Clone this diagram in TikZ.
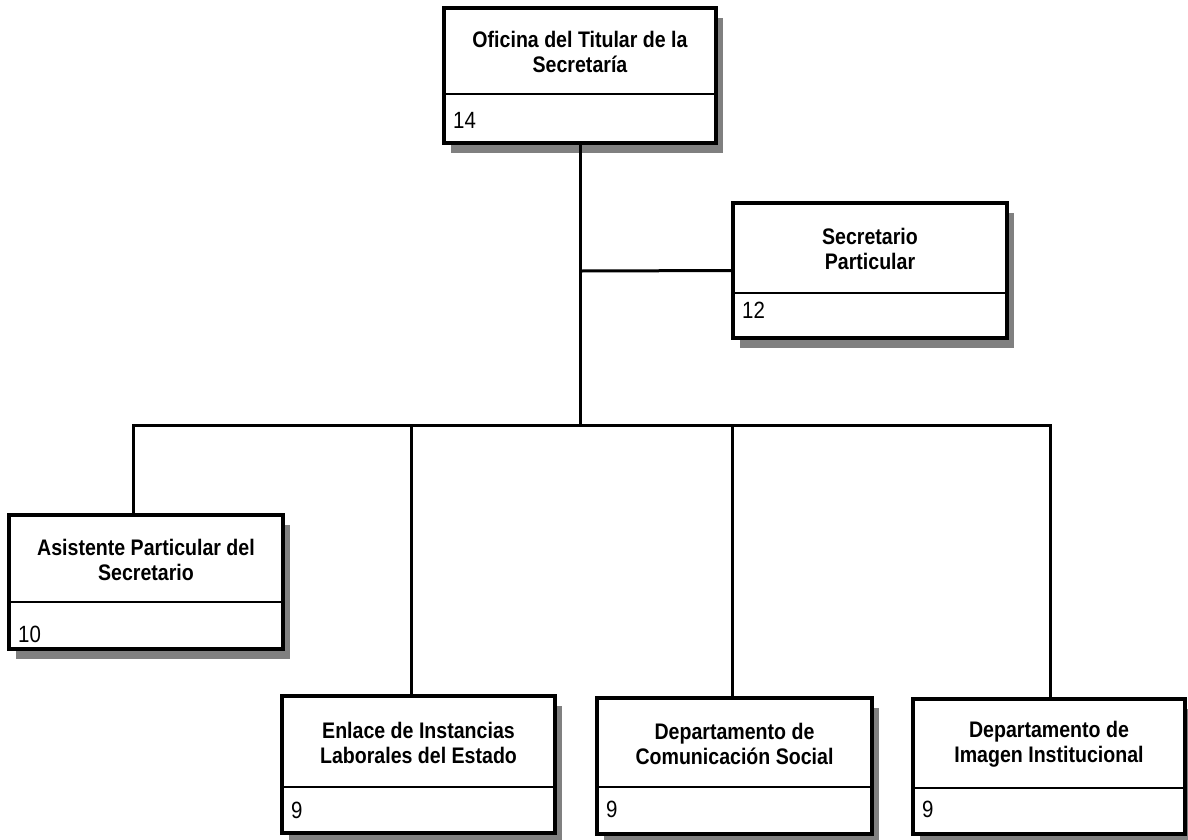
\documentclass[tikz,border=0pt]{standalone}
\usepackage{fontspec}
\setmainfont{Liberation Sans}
\newfontfamily\orgfont[FakeStretch=0.87]{Liberation Sans}
\definecolor{shadowc}{HTML}{808080}
\tikzset{
  unitbox/.style={draw=black, fill=white, line width=3.5pt, rectangle, inner sep=0pt, outer sep=0pt},
  divline/.style={line width=2pt},
  conn/.style={line width=3pt},
  titletext/.style={align=center, inner sep=0pt, font=\orgfont\bfseries\fontsize{22.5}{25}\selectfont},
  numtext/.style={inner sep=0pt, anchor=base west, font=\orgfont\fontsize{23.5}{25}\selectfont}
}
% #1 name, #2 left, #3 top, #4 right, #5 bottom, #6 divider y, #7 title, #8 number, #9 number baseline
\newcommand\OrgBox[9]{%
  \fill[shadowc] (#2+7,#3+10) rectangle (#4+7,#5+10);
  \node[unitbox, minimum width={(#4-#2)*1pt}, minimum height={(#5-#3)*1pt}] (#1) at ({(#2+#4)/2},{(#3+#5)/2}) {};
  \draw[divline] (#2,#6) -- (#4,#6);
  \node[titletext] (#1-t) at ({(#2+#4)/2},{(#3+#6)/2+1}) {#7};
  \node[numtext] (#1-n) at (#2+9,#9) {#8};
}
\begin{document}
\begin{tikzpicture}[x=1pt,y=-1pt]
\useasboundingbox (0,0) rectangle (1188,839);
\fill[white] (0,0) rectangle (1188,839);
% junction coordinates
\coordinate (jsec) at (580,271);
\coordinate (bus) at (580,425);
\coordinate (busL) at (133,425);
\coordinate (busE) at (411,425);
\coordinate (busC) at (732,425);
\coordinate (busR) at (1050,425);

\OrgBox{top}{444}{8}{716}{143}{94}{Oficina del Titular de la\\Secretaría}{14}{128}
\OrgBox{sec}{733}{203}{1007}{338}{293}{Secretario\\Particular}{12}{318}
\OrgBox{asis}{9}{515}{283}{649}{602}{Asistente Particular del\\Secretario}{10}{642}
\OrgBox{enl}{282}{696}{555}{833}{787}{Enlace de Instancias\\Laborales del Estado}{9}{818}
\OrgBox{com}{597}{698}{872}{834}{787}{Departamento de\\Comunicación Social}{9}{817}
\OrgBox{imag}{913}{699}{1185}{834}{788}{Departamento de\\Imagen Institucional}{9}{817}

% connectors
\draw[conn] (top.south) -- (bus);
\draw[conn] (jsec) -- (sec.west);
\draw[conn] (asis.north -| busL) -- (busL) -- (busR) -- (imag.north -| busR);
\draw[conn] (busE) -- (enl.north -| busE);
\draw[conn] (busC) -- (com.north -| busC);
\end{tikzpicture}
\end{document}
